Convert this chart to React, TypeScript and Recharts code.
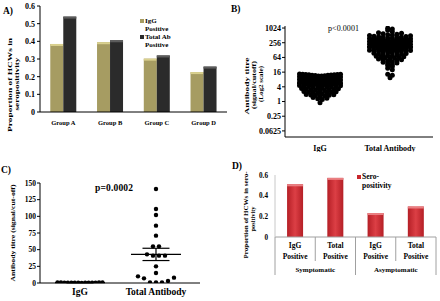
import React from 'react';
import {
  BarChart, Bar, XAxis, YAxis, ScatterChart, Scatter, ReferenceLine, Legend,
} from 'recharts';

const SERIF = '"Liberation Serif", "Times New Roman", serif';

// A) proportion seropositive per group
const groupNames = ['Group A', 'Group B', 'Group C', 'Group D'];
const iggPositive = [0.385, 0.395, 0.302, 0.226];
const totalAbPositive = [0.54, 0.406, 0.32, 0.257];
const propTicks = [0, 0.1, 0.2, 0.3, 0.4, 0.5, 0.6];

// B) antibody titre, log2 scale
const titreLabels = ['IgG', 'Total Antibody'];
const log2Ticks = [0.0625, 0.25, 1, 4, 16, 64, 256, 1024];
const iggTitres = [
  13.5, 13.2, 12.9, 12.6, 12.4, 12.2, 12.0, 11.8, 11.6, 11.4, 11.2, 11.0, 12.8, 13.0,
  10.4, 10.1, 9.9, 9.7, 9.5, 9.3, 9.2, 9.0, 8.8, 8.7, 8.5, 8.3, 9.6, 10.0,
  7.9, 7.7, 7.5, 7.3, 7.2, 7.0, 6.9, 6.8, 6.6, 6.5, 6.4, 6.3, 7.1,
  6.0, 5.8, 5.7, 5.5, 5.4, 5.3, 5.2, 5.1, 5.0, 4.9, 4.8, 4.7,
  4.5, 4.4, 4.3, 4.1, 4.0, 3.9, 3.8, 3.7, 3.6, 4.2,
  3.4, 3.3, 3.2, 3.1, 3.0, 2.9, 2.8, 2.75, 3.05,
  2.6, 2.5, 2.4, 2.35, 2.3, 2.2, 2.1, 2.45,
  1.95, 1.9, 1.85, 1.8, 1.7, 1.6, 1.75,
  1.45, 1.35, 1.3, 1.2,
  0.9,
];
const totalTitres = [
  1010, 940,
  830, 720,
  660, 630, 600, 570, 545, 520,
  505, 490, 475, 460, 450, 440, 425, 410, 400, 392,
  385, 375, 365, 355, 345, 338, 330, 322, 315, 308, 300, 296,
  290, 285, 280, 272, 265, 260, 255, 250, 245, 240, 235, 230, 226,
  220, 215, 210, 205, 200, 196, 192, 188, 184, 180, 175, 171,
  166, 162, 158, 154, 150, 146, 142, 139, 136, 133, 130,
  126, 123, 120, 117, 114, 111, 108, 105, 102, 99,
  95, 92, 89, 86, 83, 80, 77, 75,
  72, 69, 66, 64, 62, 59, 57,
  55, 52, 50, 47, 45, 43,
  41, 38, 35, 33,
  30, 27,
  23, 20,
  13, 12,
  9.5,
];

// C) antibody titre, linear
const linTicks = [0, 25, 50, 75, 100, 125, 150];
const iggTitresC = [0.2, 0.3, 0.3, 0.4, 0.4, 0.5, 0.5, 0.5, 0.6, 0.6, 0.7, 0.7, 0.8, 0.9];
const totalTitresC = [141, 111, 102, 86, 71, 55, 55, 43, 41, 41, 41, 25, 15, 10, 7, 1, 1, 1, 3, 8];

// D) seropositivity by symptoms
const symptomCats = ['IgG Positive', 'Total Positive', 'IgG Positive', 'Total Positive'];
const symptomGroups = ['Symptomatic', 'Asymptomatic'];
const seroPositivity = [0.51, 0.572, 0.232, 0.295];

// lay out dots of one column in rows, centre-out like a column scatter plot
function swarm(values: number[], rowKey: (v: number) => number, spacing: number, maxSpan: number, cat: number) {
  const rows = new Map<number, number[]>();
  values.forEach((v) => {
    const k = rowKey(v);
    if (!rows.has(k)) rows.set(k, []);
    rows.get(k)!.push(v);
  });
  const pts: { x: number; y: number; dx: number }[] = [];
  rows.forEach((row) => {
    row.sort((a, b) => a - b);
    const n = row.length;
    const sp = n > 1 ? Math.min(spacing, maxSpan / (n - 1)) : 0;
    const slots = row.map((_, i) => (i - (n - 1) / 2) * sp);
    const order = slots.map((_, i) => i)
      .sort((a, b) => Math.abs(slots[a]) - Math.abs(slots[b]) || slots[b] - slots[a]);
    row.forEach((v, j) => pts.push({ x: cat, y: v, dx: slots[order[j]] }));
  });
  return pts;
}

const median = (arr: number[]) => {
  const s = [...arr].sort((a, b) => a - b);
  const m = Math.floor(s.length / 2);
  return s.length % 2 ? s[m] : (s[m - 1] + s[m]) / 2;
};
const mean = (arr: number[]) => arr.reduce((a, b) => a + b, 0) / arr.length;
const sem = (arr: number[]) => {
  const m = mean(arr);
  const v = arr.reduce((a, b) => a + (b - m) ** 2, 0) / (arr.length - 1);
  return Math.sqrt(v / arr.length);
};

const dot = (r: number) => (p: any) => {
  const dx = p.payload?.dx ?? p.dx ?? 0;
  return <circle cx={p.cx + dx} cy={p.cy} r={r} fill="#000" />;
};

const capped = (cap: string) => (p: any) => {
  const { x, y, width, height, fill } = p;
  if (!height || height <= 0) return <g />;
  return (
    <g>
      <rect x={x} y={y} width={width} height={height} fill={fill} />
      <rect x={x} y={y} width={width} height={Math.min(2, height)} fill={cap} />
    </g>
  );
};

const propFmt = (v: number) => (v === 0 ? '0' : v.toFixed(1));
const tickStyle = (size: number) => ({ fontSize: size, fontFamily: SERIF, fontWeight: 'bold', fill: '#000' });

function PanelA() {
  const data = groupNames.map((g, i) => ({ group: g, igg: iggPositive[i], total: totalAbPositive[i] }));
  const series = [
    { name: 'IgG Positive', color: '#a69c62' },
    { name: 'Total Ab Positive', color: '#2b2b2b' },
  ];
  const legend = () => (
    <div style={{ fontFamily: SERIF, fontWeight: 'bold', fontSize: 7, lineHeight: '8px' }}>
      {series.map((s) => {
        const cut = s.name.lastIndexOf(' ');
        return (
          <div key={s.name}>
            <span style={{ display: 'inline-block', width: 4, height: 4, background: s.color, marginRight: 1 }} />
            {s.name.slice(0, cut)}
            <div style={{ paddingLeft: 5 }}>{s.name.slice(cut + 1)}</div>
          </div>
        );
      })}
    </div>
  );
  return (
    <div style={{ position: 'absolute', left: 0, top: 0 }}>
      <BarChart width={228} height={162} data={data} margin={{ top: 6, right: 1, left: 18, bottom: 0 }}
        barCategoryGap="22%" barGap={0}>
        <XAxis dataKey="group" height={18} tickLine={false} tickSize={6} tickMargin={2}
          axisLine={{ stroke: '#000' }} tick={tickStyle(6.5)} interval={0} />
        <YAxis width={22} domain={[0, 0.6]} ticks={propTicks} tickFormatter={propFmt} tickSize={3} tickMargin={2}
          axisLine={{ stroke: '#000' }} tickLine={{ stroke: '#000' }} tick={tickStyle(8)} />
        <Legend content={legend} wrapperStyle={{ position: 'absolute', left: 140, top: 17, width: 50 }} />
        <Bar dataKey="igg" name={series[0].name} fill={series[0].color} shape={capped('#d9d08e')} isAnimationActive={false} />
        <Bar dataKey="total" name={series[1].name} fill={series[1].color} shape={capped('#5c5c5c')} isAnimationActive={false} />
      </BarChart>
    </div>
  );
}

function PanelB() {
  const key = (v: number) => Math.round(Math.log2(v) / 0.4);
  const igg = swarm(iggTitres, key, 4.6, 41, 1);
  const tot = swarm(totalTitres, key, 4.6, 41, 2);
  const hw = 23 / 70;
  const meds = [median(iggTitres), median(totalTitres)];
  return (
    <div style={{ position: 'absolute', left: 222, top: 0 }}>
      <ScatterChart width={218} height={152} margin={{ top: 26, right: 7, left: 31, bottom: 0 }}>
        <XAxis type="number" dataKey="x" domain={[0.5, 2.614]} ticks={[1, 2]} height={15}
          tickFormatter={(v: number) => titreLabels[v - 1]} tickLine={false} tickSize={6} tickMargin={2}
          axisLine={{ stroke: '#000' }} tick={tickStyle(8)} allowDataOverflow />
        <YAxis type="number" dataKey="y" scale="log" domain={[0.0352, 1241]} ticks={log2Ticks} width={32}
          tickSize={3} tickMargin={1} axisLine={{ stroke: '#000' }} tickLine={{ stroke: '#000' }}
          tick={tickStyle(8)} allowDataOverflow />
        <Scatter data={igg} shape={dot(2.5)} isAnimationActive={false} />
        <Scatter data={tot} shape={dot(2.5)} isAnimationActive={false} />
        {meds.map((m, i) => (
          <ReferenceLine key={i} segment={[{ x: i + 1 - hw, y: m }, { x: i + 1 + hw, y: m }]}
            stroke="#000" strokeWidth={1.3} />
        ))}
      </ScatterChart>
    </div>
  );
}

function PanelC() {
  const key = (v: number) => Math.floor(v / 12);
  const igg = swarm(iggTitresC, key, 6, 45, 1);
  const tot = swarm(totalTitresC, key, 6, 45, 2);
  const groups = [iggTitresC, totalTitresC];
  const hw = 25 / 76;
  const ew = 13.5 / 76;
  return (
    <div style={{ position: 'absolute', left: 0, top: 165 }}>
      <ScatterChart width={210} height={136} margin={{ top: 18, right: 10, left: 16, bottom: 0 }}>
        <XAxis type="number" dataKey="x" domain={[0.474, 2.579]} ticks={[1, 2]} height={18}
          tickFormatter={(v: number) => titreLabels[v - 1]} tickLine={false} tickSize={0} tickMargin={5}
          axisLine={{ stroke: '#000' }} tick={tickStyle(9.5)} allowDataOverflow />
        <YAxis type="number" dataKey="y" domain={[0, 150]} ticks={linTicks} width={24}
          tickSize={3} tickMargin={1} axisLine={{ stroke: '#000' }} tickLine={{ stroke: '#000' }}
          tick={tickStyle(7.5)} allowDataOverflow />
        <Scatter data={igg} shape={dot(2.2)} isAnimationActive={false} />
        <Scatter data={tot} shape={dot(2.2)} isAnimationActive={false} />
        {groups.map((g, i) => {
          const m = mean(g);
          const e = sem(g);
          const c = i + 1;
          return (
            <React.Fragment key={i}>
              <ReferenceLine segment={[{ x: c - hw, y: m }, { x: c + hw, y: m }]} stroke="#000" strokeWidth={1.2} />
              <ReferenceLine segment={[{ x: c - ew, y: m + e }, { x: c + ew, y: m + e }]} stroke="#000" strokeWidth={1.2} />
              <ReferenceLine segment={[{ x: c - ew, y: m - e }, { x: c + ew, y: m - e }]} stroke="#000" strokeWidth={1.2} />
              <ReferenceLine segment={[{ x: c, y: m - e }, { x: c, y: m + e }]} stroke="#000" strokeWidth={1.2} />
            </React.Fragment>
          );
        })}
      </ScatterChart>
    </div>
  );
}

const BAND_D = 40.25;
const SymptomTick = (props: any) => {
  const { x, y, index, payload } = props;
  const [l1, l2] = String(payload.value).split(' ');
  const half = BAND_D / 2;
  const groupStart = index % 2 === 0;
  const st = { fontFamily: SERIF, fontWeight: 'bold', fill: '#000' } as any;
  return (
    <g>
      <text x={x} y={y + 11} textAnchor="middle" fontSize={7.5} {...st}>{l1}</text>
      <text x={x} y={y + 22} textAnchor="middle" fontSize={7.5} {...st}>{l2}</text>
      <line x1={x - half} x2={x - half} y1={y} y2={y + (groupStart ? 38 : 24)} stroke="#a0a0a0" />
      {index === symptomCats.length - 1 && (
        <line x1={x + half} x2={x + half} y1={y} y2={y + 38} stroke="#a0a0a0" />
      )}
      {groupStart && (
        <text x={x + half} y={y + 34.5} textAnchor="middle" fontSize={7} {...st}>{symptomGroups[index / 2]}</text>
      )}
    </g>
  );
};

function PanelD() {
  const data = symptomCats.map((c, i) => ({ cat: c, sero: seroPositivity[i] }));
  const legend = () => (
    <div style={{ fontFamily: SERIF, fontWeight: 'bold', fontSize: 7.5, lineHeight: '8.5px' }}>
      <span style={{ display: 'inline-block', width: 4, height: 4, background: '#c8262d', marginRight: 1 }} />
      Sero-
      <div style={{ paddingLeft: 5 }}>positivity</div>
    </div>
  );
  return (
    <div style={{ position: 'absolute', left: 222, top: 160 }}>
      <BarChart width={218} height={141} data={data} margin={{ top: 15, right: 4, left: 31, bottom: 0 }}
        barCategoryGap="30%">
        <defs>
          <linearGradient id="seroRed" x1="0" y1="0" x2="1" y2="0">
            <stop offset="0" stopColor="#b51f26" />
            <stop offset="0.5" stopColor="#dc3f45" />
            <stop offset="1" stopColor="#b51f26" />
          </linearGradient>
        </defs>
        <XAxis dataKey="cat" height={47} tickLine={false} tickSize={0} tickMargin={0} interval={0}
          axisLine={{ stroke: '#a0a0a0' }} tick={<SymptomTick />} />
        <YAxis width={22} domain={[0, 0.6]} ticks={propTicks} tickFormatter={propFmt} tickLine={false}
          tickSize={0} tickMargin={7} axisLine={{ stroke: '#c8c8c8' }} tick={tickStyle(7.2)} />
        <Legend content={legend} wrapperStyle={{ position: 'absolute', left: 135, top: 13, width: 50 }} />
        <Bar dataKey="sero" name="Sero-positivity" fill="url(#seroRed)" shape={capped('#ea7f82')}
          isAnimationActive={false} />
      </BarChart>
    </div>
  );
}

const VLabel = ({ x, y, len, size = 7, children }: any) => (
  <text transform={`translate(${x},${y}) rotate(-90)`} textAnchor="middle" dominantBaseline="central"
    fontSize={size} textLength={len} lengthAdjust="spacingAndGlyphs">{children}</text>
);

function Annotations() {
  return (
    <svg width={440} height={301} fontFamily={SERIF} fontWeight="bold"
      style={{ position: 'absolute', left: 0, top: 0, pointerEvents: 'none' }}>
      <text x={3} y={14} fontSize={9.5}>A)</text>
      <text x={231} y={12} fontSize={9.5}>B)</text>
      <text x={1} y={173} fontSize={9.5}>C)</text>
      <text x={232} y={169} fontSize={9.5}>D)</text>

      <VLabel x={10} y={85} len={94}>Proportion of HCWs in</VLabel>
      <VLabel x={16.5} y={84} len={53}>seropositivity</VLabel>

      <VLabel x={247} y={86} len={57}>Antibody titre</VLabel>
      <VLabel x={254} y={85} len={48}>(signal/cutoff)</VLabel>
      <VLabel x={261} y={84} len={36}>(Log2 scale)</VLabel>

      <VLabel x={13} y={233} len={97}>Antibody titre (signal/cut-off)</VLabel>

      <VLabel x={246} y={215} len={87}>Proportion of HCWs in sero-</VLabel>
      <VLabel x={253} y={219} len={25}>positivity</VLabel>

      <text x={328} y={31} fontSize={8} fontWeight="normal" textLength={31}>p&lt;0.0001</text>
      <text x={95} y={191} fontSize={9.5} textLength={38}>p=0.0002</text>
    </svg>
  );
}

export default function App() {
  return (
    <div style={{ position: 'absolute', left: 0, top: 0, width: 440, height: 301, background: '#fff' }}>
      <PanelA />
      <PanelB />
      <PanelC />
      <PanelD />
      <Annotations />
    </div>
  );
}
